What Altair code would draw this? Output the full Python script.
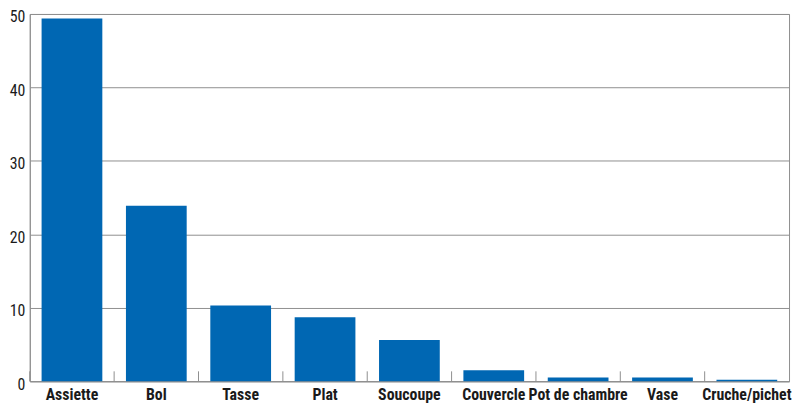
import pandas as pd
import altair as alt

# Objets en céramique par type (nombre)
categories = ["Assiette", "Bol", "Tasse", "Plat", "Soucoupe",
              "Couvercle", "Pot de chambre", "Vase", "Cruche/pichet"]
values = [49.4, 23.9, 10.3, 8.7, 5.6, 1.5, 0.5, 0.5, 0.2]
y_ticks = [0, 10, 20, 30, 40, 50]

df = pd.DataFrame({"Type": categories, "Nombre": values})

FONT = "Liberation Sans Narrow, Roboto Condensed, DejaVu Sans Condensed, sans-serif"
BLUE = "#0067b3"
GREY = "#8f8f8f"
W, H = 767, 371
PAD_INNER = 0.28
STEP = W / len(categories)

x_scale = alt.Scale(paddingInner=PAD_INNER, paddingOuter=PAD_INNER / 2)

bars = (
    alt.Chart(df)
    .mark_bar(color=BLUE)
    .encode(
        alt.X("Type:N", sort=categories, scale=x_scale).axis(
            title=None, labelAngle=0, ticks=False, domainColor=GREY,
            labelFont=FONT, labelFontSize=16, labelFontWeight="bold",
            labelColor="#1a1a1a", labelPadding=5, labelOverlap=False,
        ),
        alt.Y("Nombre:Q", scale=alt.Scale(domain=[0, 50], nice=False)).axis(
            title=None, values=y_ticks, ticks=False, domainColor=GREY,
            gridColor=GREY, gridOpacity=1, labelFont=FONT, labelFontSize=16,
            labelColor="#1a1a1a", labelPadding=5, labelOffset=3,
        ),
    )
)

# small upward ticks between the categories, on the baseline
ticks = (
    alt.Chart(df)
    .mark_rule(color=GREY, strokeWidth=1)
    .encode(
        x=alt.X("Type:N", sort=categories, scale=x_scale, bandPosition=0),
        xOffset=alt.value(-STEP * PAD_INNER / 2),
        y=alt.value(H - 10),
        y2=alt.value(H),
    )
)

chart = (
    (bars + ticks)
    .properties(
        width=W, height=H,
        autosize=alt.AutoSizeParams(type="none"),
        padding={"left": 22, "top": 4, "right": 3, "bottom": 24},
    )
    .configure_view(stroke=GREY, strokeWidth=1)
)

chart.save("out.html", embed_options={"renderer": "svg", "actions": False})
